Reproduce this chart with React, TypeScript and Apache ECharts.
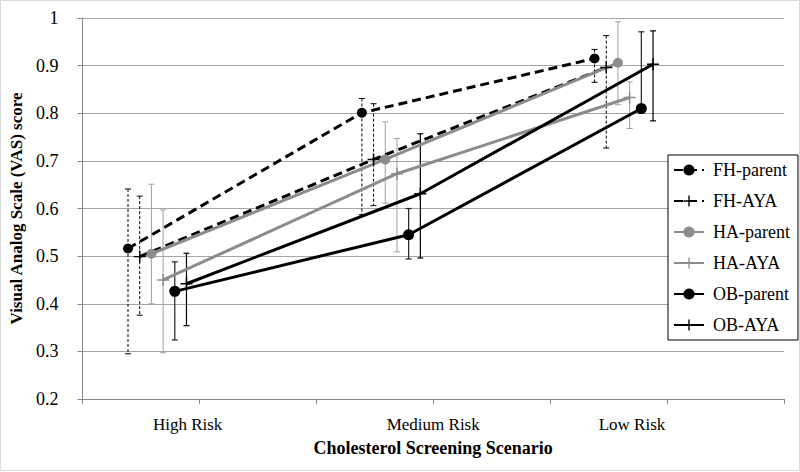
import React, { useEffect, useRef } from "react";
import * as echarts from "echarts";

const categories = ["High Risk", "Medium Risk", "Low Risk"];
const categoryLabelX = [0.9, 3, 4.7];
const groupX = [0.39, 2.39, 4.38];
const seriesNames = ["FH-parent", "FH-AYA", "HA-parent", "HA-AYA", "OB-parent", "OB-AYA"];
const seriesStep = 0.1;

const fhParent = [0.516, 0.801, 0.915];
const fhParentLow = [0.295, 0.587, 0.865];
const fhParentHigh = [0.641, 0.831, 0.934];

const fhAya = [0.499, 0.703, 0.896];
const fhAyaLow = [0.376, 0.606, 0.727];
const fhAyaHigh = [0.626, 0.82, 0.963];

const haParent = [0.505, 0.703, 0.906];
const haParentLow = [0.4, 0.611, 0.818];
const haParentHigh = [0.651, 0.782, 0.992];

const haAya = [0.45, 0.673, 0.833];
const haAyaLow = [0.297, 0.509, 0.768];
const haAyaHigh = [0.597, 0.747, 0.866];

const obParent = [0.426, 0.545, 0.81];
const obParentLow = [0.324, 0.494, 0.8];
const obParentHigh = [0.488, 0.6, 0.971];

const obAya = [0.442, 0.631, 0.903];
const obAyaLow = [0.354, 0.496, 0.784];
const obAyaHigh = [0.506, 0.757, 0.973];

const yTicks = [0.2, 0.3, 0.4, 0.5, 0.6, 0.7, 0.8, 0.9, 1];

const FONT = "'Liberation Serif', 'Times New Roman', serif";
const PLUS = "path://M0,4.4H10V5.6H0Z M4.4,0H5.6V10H4.4Z";

const styles = [
  { color: "#000000", dash: [9, 5], width: 3, symbol: "circle", size: 10, errColor: "#000000", errDash: [3, 2], errWidth: 1 },
  { color: "#000000", dash: [9, 5], width: 3, symbol: PLUS, size: 12, errColor: "#000000", errDash: [3, 2], errWidth: 1 },
  { color: "#8c8c8c", dash: null, width: 3, symbol: "circle", size: 10, errColor: "#a0a0a0", errDash: null, errWidth: 1 },
  { color: "#8c8c8c", dash: null, width: 3, symbol: PLUS, size: 12, errColor: "#a0a0a0", errDash: null, errWidth: 1 },
  { color: "#000000", dash: null, width: 3, symbol: "circle", size: 11, errColor: "#222222", errDash: null, errWidth: 1.2 },
  { color: "#000000", dash: null, width: 3, symbol: PLUS, size: 12, errColor: "#000000", errDash: null, errWidth: 1.2 },
];

const values = [fhParent, fhAya, haParent, haAya, obParent, obAya];
const lows = [fhParentLow, fhAyaLow, haParentLow, haAyaLow, obParentLow, obAyaLow];
const highs = [fhParentHigh, fhAyaHigh, haParentHigh, haAyaHigh, obParentHigh, obAyaHigh];

export default function App() {
  const ref = useRef<HTMLDivElement>(null);
  useEffect(() => {
    if (!ref.current) return;
    const chart = echarts.init(ref.current, null, { renderer: "svg" });
    const series: any[] = [];
    seriesNames.forEach((name, si) => {
      const st = styles[si];
      const xs = groupX.map((g) => g + si * seriesStep);
      series.push({
        name: name + " error",
        type: "custom",
        z: 1,
        silent: true,
        data: xs.map((x, i) => [x, lows[si][i], highs[si][i]]),
        renderItem: (params: any, api: any) => {
          const x = api.value(0);
          const top = api.coord([x, api.value(2)]);
          const bot = api.coord([x, api.value(1)]);
          const s: any = { stroke: st.errColor, lineWidth: st.errWidth, fill: null };
          if (st.errDash) s.lineDash = st.errDash;
          const cap = 3;
          return {
            type: "group",
            children: [
              { type: "line", shape: { x1: top[0], y1: top[1], x2: bot[0], y2: bot[1] }, style: s },
              { type: "line", shape: { x1: top[0] - cap, y1: top[1], x2: top[0] + cap, y2: top[1] }, style: { stroke: st.errColor, lineWidth: st.errWidth } },
              { type: "line", shape: { x1: bot[0] - cap, y1: bot[1], x2: bot[0] + cap, y2: bot[1] }, style: { stroke: st.errColor, lineWidth: st.errWidth } },
            ],
          };
        },
      });
      series.push({
        name,
        type: "line",
        z: 3,
        data: xs.map((x, i) => [x, values[si][i]]),
        symbol: st.symbol,
        symbolSize: st.size,
        showSymbol: true,
        color: st.color,
        itemStyle: { color: st.color },
        lineStyle: { color: st.color, width: st.width, type: st.dash ? st.dash : "solid" },
        emphasis: { disabled: true },
      });
    });

    chart.setOption({
      animation: false,
      backgroundColor: "#ffffff",
      grid: { left: 77, right: 16, top: 18, bottom: 73 },
      xAxis: {
        type: "value",
        min: 0,
        max: 6,
        interval: 1,
        name: "Cholesterol Screening Scenario",
        nameLocation: "middle",
        nameGap: 40,
        nameTextStyle: { fontFamily: FONT, fontWeight: "bold", fontSize: 18, color: "#000" },
        axisLine: { show: true, lineStyle: { color: "#868686", width: 1 } },
        axisTick: { show: true, length: 5, lineStyle: { color: "#868686" } },
        splitLine: { show: false },
        axisLabel: {
          customValues: categoryLabelX,
          formatter: (v: number) => {
            const i = categoryLabelX.findIndex((c) => Math.abs(c - v) < 1e-6);
            return i >= 0 ? categories[i] : "";
          },
          fontFamily: FONT,
          fontSize: 17,
          color: "#000",
          margin: 17,
        },
      },
      yAxis: {
        type: "value",
        min: 0.2,
        max: 1,
        interval: 0.1,
        name: "Visual Analog Scale (VAS) score",
        nameLocation: "middle",
        nameGap: 38,
        nameTextStyle: { fontFamily: FONT, fontWeight: "bold", fontSize: 17, color: "#000" },
        axisLine: { show: true, lineStyle: { color: "#868686", width: 1 } },
        axisTick: { show: true, length: 5, lineStyle: { color: "#868686" } },
        splitLine: { show: true, lineStyle: { color: "#a6a6a6", width: 1 } },
        axisLabel: {
          formatter: (v: number) => {
            const t = yTicks.find((y) => Math.abs(y - v) < 1e-6);
            return t === undefined ? "" : String(t);
          },
          fontFamily: FONT,
          fontSize: 18,
          color: "#000",
          margin: 24,
        },
      },
      legend: {
        data: seriesNames,
        orient: "vertical",
        left: 668,
        top: 155,
        itemWidth: 30,
        itemHeight: 14,
        itemGap: 13,
        padding: [6, 8, 6, 5],
        backgroundColor: "#ffffff",
        borderColor: "#000000",
        borderWidth: 1,
        borderRadius: 0,
        textStyle: { fontFamily: FONT, fontSize: 18, color: "#000", padding: [0, 0, 0, 4] },
        selectedMode: false,
      },
      graphic: [
        {
          type: "rect",
          shape: { x: 0.5, y: 0.5, width: 799, height: 470 },
          style: { fill: null, stroke: "#d9d9d9", lineWidth: 1 },
          silent: true,
          z: -1,
        },
      ],
      series,
    });
    return () => chart.dispose();
  }, []);
  return (
    <div
      ref={ref}
      style={{ position: "fixed", left: 0, top: 0, width: 800, height: 472 }}
    />
  );
}
